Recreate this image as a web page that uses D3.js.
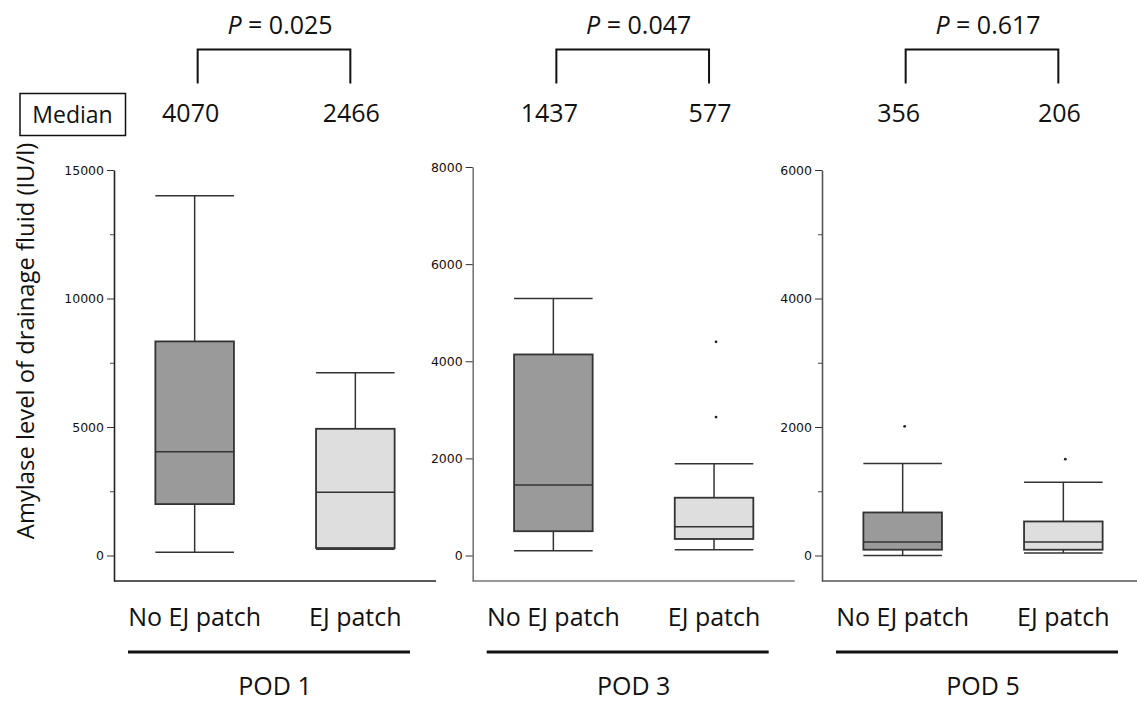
<!DOCTYPE html>
<html>
<head>
<meta charset="utf-8">
<script src="https://cdnjs.cloudflare.com/ajax/libs/d3/7.8.5/d3.min.js"></script>
<style>
  body { margin: 0; background: #fff; }
  svg { display: block; }
  .big { font-family: "Open Sans", sans-serif; font-size: 25px; fill: #111; }
  .tick text { font-family: "DejaVu Sans", sans-serif; font-size: 12.5px; fill: #111; }
</style>
</head>
<body>
<div id="chart"></div>
<script>
// ---- data ----
var pods = ["POD 1", "POD 3", "POD 5"];
var groups = ["No EJ patch", "EJ patch"];
var pValues = ["0.025", "0.047", "0.617"];
var medianLabels = [[4070, 2466], [1437, 577], [356, 206]];
var yMax = [15000, 8000, 6000];
var majorTicks = [[0, 5000, 10000, 15000], [0, 2000, 4000, 6000, 8000], [0, 2000, 4000, 6000]];
var minorTicks = [[2500, 7500, 12500], [], [1000, 3000, 5000]];

// box stats per panel, [No EJ patch, EJ patch]
var whiskerLow  = [[130, 240],   [100, 120],   [0, 40]];
var q1          = [[2000, 290],  [500, 340],   [90, 90]];
var medians     = [[4040, 2460], [1450, 590],  [210, 210]];
var q3          = [[8330, 4930], [4140, 1190], [670, 530]];
var whiskerHigh = [[14000, 7110], [5290, 1890], [1430, 1140]];
var outliers    = [[[], []], [[], [4400, 2850]], [[2010], [1500]]];

var boxFill = ["#9a9a9a", "#dedede"];
var axisColor = ["#222", "#777", "#555"];

var W = 1137, H = 701;
var svg = d3.select("#chart").append("svg")
    .attr("width", W)
    .attr("height", H);

var panelLeft = [114, 472.7, 822];
var panelTop = [170, 167, 170];
var zeroY = 555.5, bottomY = 581, panelWidth = 322;

// y axis title
svg.append("text")
    .attr("class", "big")
    .attr("transform", "translate(34,341) rotate(-90)")
    .style("text-anchor", "middle")
    .style("font-size", "23.8px")
    .text("Amylase level of drainage fluid (IU/l)");

// "Median" box
svg.append("rect")
    .attr("x", 20).attr("y", 93.5)
    .attr("width", 105.5).attr("height", 42)
    .attr("fill", "none").attr("stroke", "#111").attr("stroke-width", 1.5);
svg.append("text")
    .attr("class", "big")
    .attr("x", 72.5).attr("y", 123)
    .style("text-anchor", "middle")
    .style("font-size", "23px")
    .text("Median");

pods.forEach(function (pod, p) {
    var g = svg.append("g")
        .attr("transform", "translate(" + panelLeft[p] + ",0)");

    var xScale = d3.scaleBand()
        .domain(groups)
        .range([0, panelWidth])
        .paddingInner(0.511)
        .paddingOuter(0.2575);

    var y0 = d3.scaleLinear().domain([0, yMax[p]]).range([zeroY, panelTop[p]]);
    var yScale = d3.scaleLinear()
        .domain([y0.invert(bottomY), yMax[p]])
        .range([bottomY, panelTop[p]]);

    // axes
    var yAxis = g.append("g")
        .attr("class", "y axis")
        .call(d3.axisLeft(yScale).tickValues(majorTicks[p])
            .tickSize(7).tickSizeOuter(0).tickPadding(3).tickFormat(d3.format("d")));
    yAxis.select(".domain").attr("stroke", axisColor[p]).attr("stroke-width", 1.6);
    yAxis.selectAll(".tick line").attr("stroke", "#333");

    var yMinor = g.append("g")
        .call(d3.axisLeft(yScale).tickValues(minorTicks[p]).tickSize(4).tickFormat(""));
    yMinor.select(".domain").remove();
    yMinor.selectAll(".tick line").attr("stroke", "#444");

    g.append("line")
        .attr("x1", 0).attr("x2", panelWidth)
        .attr("y1", bottomY).attr("y2", bottomY)
        .attr("stroke", axisColor[p]).attr("stroke-width", 1.6);

    var bw = xScale.bandwidth();
    var boxes = groups.map(function (grp, i) {
        return { key: grp, i: i, lo: whiskerLow[p][i], q1: q1[p][i], med: medians[p][i],
                 q3: q3[p][i], hi: whiskerHigh[p][i], out: outliers[p][i] };
    });

    var bg = g.selectAll(".box")
        .data(boxes)
        .enter().append("g")
        .attr("class", "box");

    // whisker stems
    bg.append("line")
        .attr("x1", function (d) { return xScale(d.key) + bw / 2; })
        .attr("x2", function (d) { return xScale(d.key) + bw / 2; })
        .attr("y1", function (d) { return yScale(d.lo); })
        .attr("y2", function (d) { return yScale(d.hi); })
        .attr("stroke", "#333").attr("stroke-width", 1.5);

    // whisker caps
    ["lo", "hi"].forEach(function (k) {
        bg.append("line")
            .attr("x1", function (d) { return xScale(d.key); })
            .attr("x2", function (d) { return xScale(d.key) + bw; })
            .attr("y1", function (d) { return yScale(d[k]); })
            .attr("y2", function (d) { return yScale(d[k]); })
            .attr("stroke", "#333").attr("stroke-width", 1.5);
    });

    bg.append("rect")
        .attr("x", function (d) { return xScale(d.key); })
        .attr("y", function (d) { return yScale(d.q3); })
        .attr("width", bw)
        .attr("height", function (d) { return yScale(d.q1) - yScale(d.q3); })
        .attr("fill", function (d) { return boxFill[d.i]; })
        .attr("stroke", "#333").attr("stroke-width", 1.8);

    bg.append("line")
        .attr("x1", function (d) { return xScale(d.key); })
        .attr("x2", function (d) { return xScale(d.key) + bw; })
        .attr("y1", function (d) { return yScale(d.med); })
        .attr("y2", function (d) { return yScale(d.med); })
        .attr("stroke", "#333").attr("stroke-width", 1.5);

    bg.selectAll(".dot")
        .data(function (d) { return d.out.map(function (v) { return { key: d.key, v: v }; }); })
        .enter().append("circle")
        .attr("class", "dot")
        .attr("cx", function (d) { return xScale(d.key) + bw / 2 + 2; })
        .attr("cy", function (d) { return yScale(d.v); })
        .attr("r", 1.4)
        .attr("fill", "#222");

    // top annotations
    var c0 = xScale(groups[0]) + bw / 2, c1 = xScale(groups[1]) + bw / 2;
    var mid = (c0 + c1) / 2;

    var pText = g.append("text")
        .attr("class", "big")
        .attr("x", mid + 5).attr("y", 34)
        .style("text-anchor", "middle");
    pText.append("tspan").style("font-style", "italic").text("P");
    pText.append("tspan").text(" = " + pValues[p]);

    g.append("path")
        .attr("d", "M" + (c0 + 3) + ",83.5V49.5H" + (c1 - 5) + "V83.5")
        .attr("fill", "none").attr("stroke", "#111").attr("stroke-width", 2);

    g.selectAll(".medlab")
        .data(medianLabels[p])
        .enter().append("text")
        .attr("class", "big medlab")
        .attr("x", function (d, i) { return xScale(groups[i]) + bw / 2 - 4; })
        .attr("y", 122)
        .style("text-anchor", "middle")
        .text(function (d) { return d; });

    // bottom labels
    g.selectAll(".grplab")
        .data(groups)
        .enter().append("text")
        .attr("class", "big grplab")
        .attr("x", function (d) { return xScale(d) + bw / 2; })
        .attr("y", 626)
        .style("text-anchor", "middle")
        .text(function (d) { return d; });

    g.append("line")
        .attr("x1", 14).attr("x2", 296)
        .attr("y1", 652).attr("y2", 652)
        .attr("stroke", "#111").attr("stroke-width", 3);

    g.append("text")
        .attr("class", "big")
        .attr("x", mid).attr("y", 695)
        .style("text-anchor", "middle")
        .text(pod);
});
</script>
</body>
</html>
